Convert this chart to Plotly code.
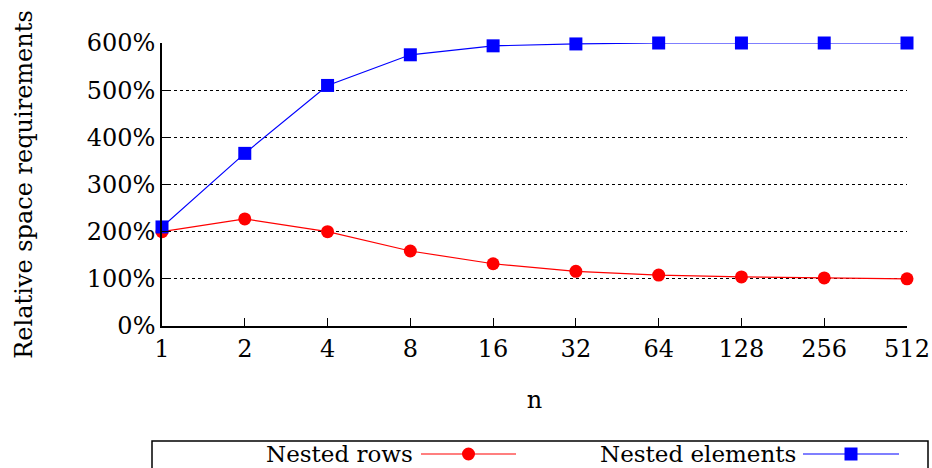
import plotly.graph_objects as go

# Data
n_values = [1, 2, 4, 8, 16, 32, 64, 128, 256, 512]
n_labels = ["1", "2", "4", "8", "16", "32", "64", "128", "256", "512"]
nested_rows = [200, 227, 200, 159, 132, 116, 108, 104, 102, 100]
nested_elements = [210, 366, 510, 575, 594, 598, 600, 600, 600, 600]
y_ticks = [0, 100, 200, 300, 400, 500, 600]
y_labels = ["0%", "100%", "200%", "300%", "400%", "500%", "600%"]

FONT = "DejaVu Serif"
W, H = 932, 468
L, R, T, B = 162, 25, 43, 142
PW = W - L - R
PH = H - T - B


def px(x):
    return (x - L) / PW


def py(y):
    return (H - B - y) / PH


fig = go.Figure()
fig.add_trace(go.Scatter(
    x=n_values, y=nested_rows, mode="lines+markers", name="Nested rows",
    line=dict(color="#ff0000", width=1.2),
    marker=dict(symbol="circle", size=13, color="#ff0000"),
    cliponaxis=False, showlegend=False))
fig.add_trace(go.Scatter(
    x=n_values, y=nested_elements, mode="lines+markers", name="Nested elements",
    line=dict(color="#0000ff", width=1.2),
    marker=dict(symbol="square", size=13, color="#0000ff"),
    cliponaxis=False, showlegend=False))

shapes = []
annotations = []
# legend box
shapes.append(dict(type="rect", xref="paper", yref="paper",
                   x0=px(152), x1=px(928), y0=py(480), y1=py(441),
                   line=dict(color="black", width=1.5), fillcolor="rgba(0,0,0,0)"))
legend_items = [
    ("Nested rows", "#ff0000", "circle", 415, 421, 516),
    ("Nested elements", "#0000ff", "square", 798, 803, 899),
]
for name, col, sym, text_right, lx0, lx1 in legend_items:
    yc = 454
    annotations.append(dict(text=name, xref="paper", yref="paper",
                            x=px(text_right), y=py(yc), xanchor="right", yanchor="middle",
                            showarrow=False, font=dict(family=FONT, size=23, color="black")))
    shapes.append(dict(type="line", xref="paper", yref="paper",
                       x0=px(lx0), x1=px(lx1), y0=py(yc), y1=py(yc),
                       line=dict(color=col, width=1.2)))
    xm = (lx0 + lx1) / 2
    shapes.append(dict(type="circle" if sym == "circle" else "rect",
                       xref="paper", yref="paper",
                       xsizemode="pixel", ysizemode="pixel",
                       xanchor=px(xm), yanchor=py(yc),
                       x0=-6.5, x1=6.5, y0=-6.5, y1=6.5,
                       fillcolor=col, line=dict(color=col, width=0)))

fig.update_layout(
    width=W, height=H,
    margin=dict(l=L, r=R, t=T, b=B),
    paper_bgcolor="white", plot_bgcolor="white",
    font=dict(family=FONT, size=24, color="black"),
    showlegend=False,
    shapes=shapes, annotations=annotations,
    xaxis=dict(
        type="log", range=[0, 2.70927], tickvals=n_values, ticktext=n_labels,
        automargin=False,
        showgrid=False, zeroline=False, showline=True, linecolor="black", linewidth=1.5,
        ticks="inside", ticklen=8, tickwidth=1.2, tickcolor="black",
        tickfont=dict(family=FONT, size=24),
        title=dict(text="n", font=dict(family=FONT, size=24), standoff=30),
    ),
    yaxis=dict(
        range=[0, 600], tickvals=y_ticks, ticktext=y_labels,
        automargin=False,
        showgrid=True, gridcolor="black", griddash="dot", gridwidth=1,
        zeroline=False, showline=True, linecolor="black", linewidth=1.5,
        ticks="inside", ticklen=8, tickwidth=1.2, tickcolor="black",
        tickfont=dict(family=FONT, size=24),
        title=dict(text="Relative space requirements", font=dict(family=FONT, size=24), standoff=47),
    ),
)

fig.write_html("out.html", config={"displayModeBar": False},
               post_script="document.body.style.margin='0';document.body.style.overflow='hidden';")
